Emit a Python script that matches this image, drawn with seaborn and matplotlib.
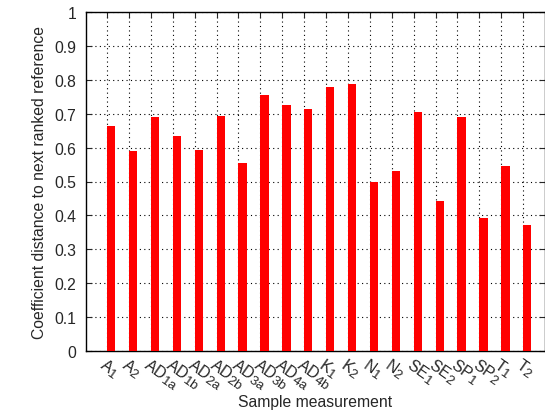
import matplotlib
matplotlib.use("Agg")
import matplotlib.pyplot as plt
import matplotlib._mathtext as _mt
import seaborn as sns
import numpy as np
import pandas as pd

samples = ["A1", "A2", "AD1a", "AD1b", "AD2a", "AD2b", "AD3a", "AD3b", "AD4a", "AD4b",
           "K1", "K2", "N1", "N2", "SE1", "SE2", "SP1", "SP2", "T1", "T2"]
tick_labels = [r"A$_1$", r"A$_2$", r"AD$_{1a}$", r"AD$_{1b}$", r"AD$_{2a}$", r"AD$_{2b}$",
               r"AD$_{3a}$", r"AD$_{3b}$", r"AD$_{4a}$", r"AD$_{4b}$", r"K$_1$", r"K$_2$",
               r"N$_1$", r"N$_2$", r"SE$_1$", r"SE$_2$", r"SP$_1$", r"SP$_2$", r"T$_1$", r"T$_2$"]
distance = [0.664, 0.590, 0.691, 0.633, 0.592, 0.693, 0.555, 0.754, 0.725, 0.713,
            0.779, 0.787, 0.499, 0.532, 0.704, 0.442, 0.689, 0.391, 0.545, 0.373]
y_ticks = [0, 0.1, 0.2, 0.3, 0.4, 0.5, 0.6, 0.7, 0.8, 0.9, 1]
y_tick_labels = ["0", "0.1", "0.2", "0.3", "0.4", "0.5", "0.6", "0.7", "0.8", "0.9", "1"]

_mt.SHRINK_FACTOR = 0.85

sns.set_style("white")
plt.rcParams["font.family"] = ["Liberation Sans", "DejaVu Sans"]
plt.rcParams["mathtext.fontset"] = "custom"
plt.rcParams["mathtext.rm"] = "Liberation Sans"
plt.rcParams["mathtext.it"] = "Liberation Sans"
plt.rcParams["mathtext.default"] = "regular"

FS = 11.3
df = pd.DataFrame({"sample": samples, "distance": distance})

fig = plt.figure(figsize=(5.45, 4.14), dpi=100)
ax = fig.add_axes([86 / 545, 1 - 352 / 414, (545 - 86) / 545, (352 - 13) / 414])

bw = 0.38
sns.barplot(data=df, x="sample", y="distance", color="#ff0000", width=bw,
            saturation=1, ax=ax, zorder=3, linewidth=0)

xt = np.arange(len(samples)) - bw / 2
ax.set_xticks(xt)
ax.set_xticklabels(tick_labels, rotation=-35, ha="left", va="top",
                   rotation_mode="anchor", fontsize=FS)
ax.set_xlim(xt[0] - 0.96, xt[-1] + 1.0)
ax.set_ylim(0, 1)
ax.set_yticks(y_ticks)
ax.set_yticklabels(y_tick_labels, fontsize=FS)

ax.grid(True, color="black", linestyle=(0, (1, 3)), linewidth=0.8, zorder=1)
ax.set_axisbelow(True)
ax.tick_params(axis="both", direction="in", length=4.5, width=0.8,
               top=True, right=True, bottom=False, left=True)
ax.tick_params(axis="y", pad=7)
ax.tick_params(axis="x", pad=3)
for s in ax.spines.values():
    s.set_visible(True)
    s.set_color("black")
    s.set_linewidth(1.0)

ax.set_xlabel("Sample measurement", fontsize=FS, va="center")
ax.xaxis.set_label_coords(0.499, -0.1475)
ax.set_ylabel("Coefficient distance to next ranked reference", fontsize=FS, labelpad=5)

fig.savefig("out.png", dpi=100)
